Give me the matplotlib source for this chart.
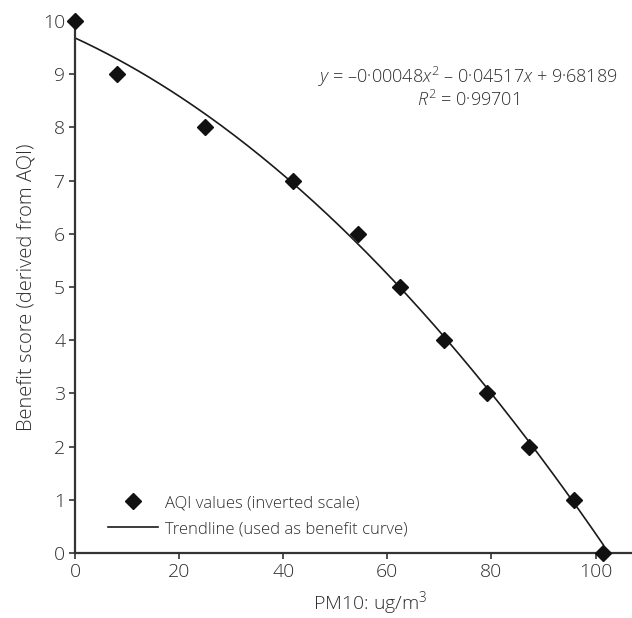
import matplotlib.pyplot as plt
import numpy as np

plt.rcParams['font.family'] = ['Open Sans', 'DejaVu Sans']
plt.rcParams['font.weight'] = 'light'
plt.rcParams['axes.labelweight'] = 'light'
plt.rcParams['mathtext.fontset'] = 'custom'
plt.rcParams['mathtext.rm'] = 'Open Sans:light'
plt.rcParams['mathtext.it'] = 'Open Sans:italic:light'

# AQI points (PM10 vs benefit score)
pm10 = [0, 8.1, 25, 41.9, 54.4, 62.5, 70.8, 79.2, 87.3, 95.9, 101.5]
score = [10, 9, 8, 7, 6, 5, 4, 3, 2, 1, 0]

# trendline coefficients as shown on the chart
coef = [-0.00048, -0.04517, 9.68189]
r2 = 0.99701

txt = '#2e2e2e'
fig = plt.figure(figsize=(6.32, 6.18), dpi=100)
ax = fig.add_axes([75/632, 65/618, 557/632, 532/618])

xs = np.linspace(0, max(pm10), 200)
ax.plot(xs, np.polyval(coef, xs), color='#1a1a1a', lw=1.2,
        label='Trendline (used as benefit curve)', zorder=2)
ax.plot(pm10, score, 'D', color='#111111', ms=8, ls='none',
        label='AQI values (inverted scale)', zorder=3, clip_on=False)

ax.set_xlim(0, 107)
ax.set_ylim(0, 10)
ax.set_xticks(range(0, 101, 20))
ax.set_yticks(range(0, 11))
for s in ['top', 'right']:
    ax.spines[s].set_visible(False)
for s in ['left', 'bottom']:
    ax.spines[s].set_color('#333333')
    ax.spines[s].set_linewidth(1.6)
ax.tick_params(direction='out', length=4, width=1.2, color='#333333',
               labelsize=14, labelcolor=txt, pad=3)

ax.set_xlabel('PM10: ug/m$^3$', fontsize=14, color=txt)
ax.xaxis.set_label_coords(0.53, -0.068)
ax.set_ylabel('Benefit score (derived from AQI)', fontsize=14.5, color=txt, labelpad=5)

ax.text(0.705, 0.895,
        '$y$ = \u20130\u00b7%s$x^2$ \u2013 0\u00b7%s$x$ + 9\u00b7%s'
        % (str(abs(coef[0]))[2:].ljust(5, '0'), str(abs(coef[1]))[2:], str(coef[2])[2:]),
        transform=ax.transAxes, ha='center', va='center', fontsize=13, color=txt)
ax.text(0.705, 0.852, '$R^2$ = 0\u00b7%s' % str(r2)[2:],
        transform=ax.transAxes, ha='center', va='center', fontsize=13, color=txt)

h, l = ax.get_legend_handles_labels()
ax.legend(h[::-1], l[::-1], loc='lower left', bbox_to_anchor=(0.059, 0.03),
          frameon=False, fontsize=12, handlelength=3.0, handletextpad=0.4,
          labelspacing=0.6, borderpad=0, borderaxespad=0, labelcolor=txt)

fig.savefig('out.png', dpi=100)
